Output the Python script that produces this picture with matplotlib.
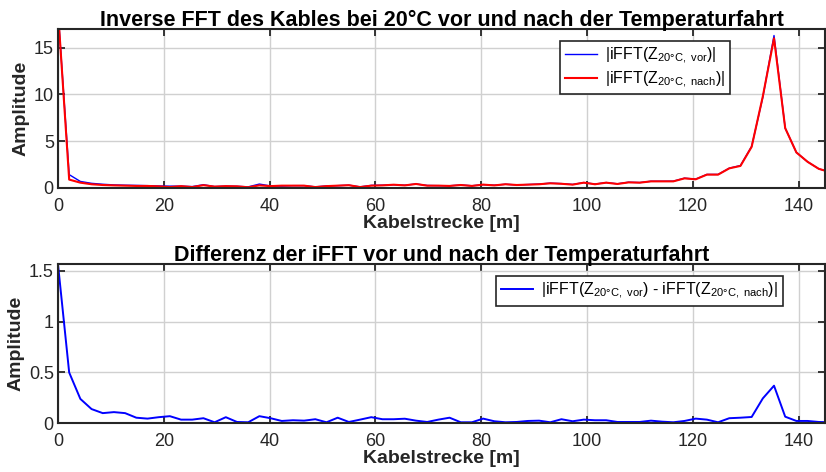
import numpy as np
import matplotlib
matplotlib.use('Agg')
import matplotlib.pyplot as plt

plt.rcParams['font.family'] = ['Liberation Sans', 'DejaVu Sans']
plt.rcParams['mathtext.fontset'] = 'custom'
plt.rcParams['mathtext.rm'] = 'Liberation Sans'
plt.rcParams['mathtext.it'] = 'Liberation Sans'

# cable distance, sample spacing ~2.115 m
dx = 2.115
x = dx * np.arange(70)

# |iFFT(Z_20C,vor)|  (blue)
vor = [19.0, 1.43, 0.70, 0.50, 0.40, 0.33, 0.30, 0.28, 0.25, 0.22,
       0.20, 0.20, 0.15, 0.35, 0.15, 0.20, 0.18, 0.12, 0.42, 0.22,
       0.20, 0.25, 0.25, 0.12, 0.22, 0.25, 0.30, 0.12, 0.28, 0.30,
       0.35, 0.30, 0.43, 0.27, 0.25, 0.24, 0.32, 0.24, 0.36, 0.30,
       0.40, 0.33, 0.37, 0.42, 0.52, 0.47, 0.38, 0.58, 0.42, 0.58,
       0.45, 0.62, 0.58, 0.72, 0.72, 0.73, 1.05, 0.95, 1.45, 1.45,
       2.12, 2.40, 4.45, 9.70, 16.30, 6.40, 3.80, 2.80, 2.05, 1.70]

# |iFFT(Z_20C,nach)|  (red)
nach = [19.0, 0.90, 0.57, 0.40, 0.32, 0.28, 0.25, 0.22, 0.22, 0.18,
        0.10, 0.20, 0.10, 0.30, 0.15, 0.20, 0.18, 0.08, 0.28, 0.20,
        0.25, 0.25, 0.25, 0.10, 0.20, 0.25, 0.30, 0.10, 0.25, 0.28,
        0.35, 0.28, 0.43, 0.25, 0.25, 0.22, 0.32, 0.22, 0.36, 0.28,
        0.40, 0.32, 0.36, 0.40, 0.50, 0.45, 0.36, 0.57, 0.40, 0.57,
        0.43, 0.60, 0.57, 0.71, 0.71, 0.71, 1.03, 0.93, 1.43, 1.43,
        2.10, 2.36, 4.40, 9.80, 16.00, 6.40, 3.80, 2.80, 2.05, 1.70]

# |iFFT(vor) - iFFT(nach)|
diff = [1.565, 0.50, 0.24, 0.14, 0.10, 0.11, 0.10, 0.055, 0.046, 0.06,
        0.07, 0.036, 0.036, 0.05, 0.01, 0.06, 0.013, 0.01, 0.07, 0.05,
        0.023, 0.03, 0.026, 0.04, 0.01, 0.055, 0.013, 0.036, 0.06, 0.04,
        0.04, 0.045, 0.026, 0.013, 0.036, 0.055, 0.01, 0.01, 0.046, 0.02,
        0.01, 0.013, 0.023, 0.026, 0.01, 0.04, 0.02, 0.036, 0.03, 0.03,
        0.013, 0.013, 0.013, 0.026, 0.016, 0.01, 0.023, 0.046, 0.036, 0.01,
        0.05, 0.055, 0.062, 0.245, 0.37, 0.065, 0.023, 0.023, 0.013, 0.01]

dark = '#262626'


def style(ax):
    ax.grid(True, color='#d0d0d0', linewidth=1.0)
    ax.set_axisbelow(True)
    ax.tick_params(direction='in', top=True, right=True, length=5, width=1.3,
                   labelsize=13, colors=dark, labelcolor=dark)
    ax.tick_params(axis='x', pad=7)
    ax.tick_params(axis='y', pad=3)
    for s in ax.spines.values():
        s.set_linewidth(1.5)
        s.set_color(dark)
    ax.set_xlim(0, 145)
    ax.set_xlabel('Kabelstrecke [m]', fontsize=14, fontweight='bold', color=dark, labelpad=0)
    ax.set_ylabel('Amplitude', fontsize=14, fontweight='bold', color=dark, labelpad=3)


fig = plt.figure(figsize=(8.26, 4.72), dpi=100)
ax1 = fig.add_axes([0.0702, 0.6017, 0.9286, 0.3369])
ax2 = fig.add_axes([0.0702, 0.1032, 0.9286, 0.3380])

ax1.plot(x, vor, color='#0000ff', lw=1.0, label=r'|iFFT(Z$_{\mathrm{20°C,\ vor}}$)|')
ax1.plot(x, nach, color='#ff0000', lw=1.5, label=r'|iFFT(Z$_{\mathrm{20°C,\ nach}}$)|')
style(ax1)
ax1.set_ylim(0, 17)
ax1.set_yticks([0, 5, 10, 15])
ax1.set_title('Inverse FFT des Kables bei 20°C vor und nach der Temperaturfahrt',
              fontsize=15.5, fontweight='bold', pad=2)
leg = ax1.legend(loc='upper left', bbox_to_anchor=(0.644, 0.975), fontsize=11.5,
                 fancybox=False, framealpha=1, edgecolor=dark, borderpad=0.3,
                 handlelength=2.0, labelspacing=0.2, handletextpad=0.5)
leg.get_frame().set_linewidth(1.2)

ax2.plot(x, diff, color='#0000ff', lw=1.4,
         label=r'|iFFT(Z$_{\mathrm{20°C,\ vor}}$) - iFFT(Z$_{\mathrm{20°C,\ nach}}$)|')
style(ax2)
ax2.set_ylim(0, 1.57)
ax2.set_yticks([0, 0.5, 1, 1.5])
ax2.set_yticklabels(['0', '0.5', '1', '1.5'])
ax2.set_title('Differenz der iFFT vor und nach der Temperaturfahrt',
              fontsize=15.5, fontweight='bold', pad=2)
leg2 = ax2.legend(loc='upper left', bbox_to_anchor=(0.561, 0.975), fontsize=11.5,
                  fancybox=False, framealpha=1, edgecolor=dark, borderpad=0.3,
                  handlelength=2.0, handletextpad=0.5)
leg2.get_frame().set_linewidth(1.2)

fig.savefig('out.png', dpi=100)
